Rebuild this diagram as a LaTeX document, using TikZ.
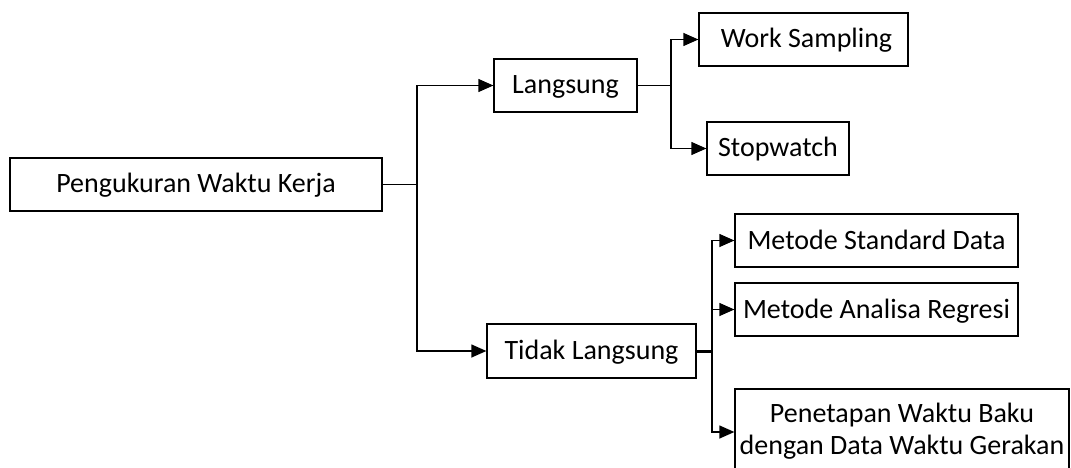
\documentclass[tikz,border=0pt]{standalone}
\usepackage{fontspec}
\setmainfont{Carlito}
\usetikzlibrary{arrows.meta}
\begin{document}
\begin{tikzpicture}[x=1pt,y=-1pt,
  box/.style={draw=black, line width=1.3pt, inner sep=0pt, align=center,
    font=\fontsize{28}{32}\selectfont, minimum height=53pt},
  oneline/.style={text height=20pt, text depth=3pt},
  link/.style={line width=1.3pt},
  arr/.style={link, -{Triangle[length=15pt,width=13pt]}}]
\useasboundingbox (0,0) rectangle (1071,468);
\clip (0,0) rectangle (1071,468);

% boxes
\node[box, oneline, minimum width=372pt] (root) at (196,184.5) {Pengukuran Waktu Kerja};
\node[box, oneline, minimum width=143pt] (lang) at (565.5,85.5) {Langsung};
\node[box, oneline, minimum width=209pt] (ws) at (803.5,39.5) {\hspace{6pt}Work Sampling};
\node[box, oneline, minimum width=142pt] (sw) at (778,148.5) {Stopwatch};
\node[box, oneline, minimum width=209pt, minimum height=54pt] (tidak) at (591.5,351) {Tidak Langsung};
\node[box, oneline, minimum width=283pt] (msd) at (876.5,240.5) {Metode Standard Data};
\node[box, oneline, minimum width=283pt] (mar) at (876.5,309.5) {Metode Analisa Regresi};
\node[box, minimum width=334pt, minimum height=84pt] (pwb) at (902,431)
  {Penetapan Waktu Baku\\dengan Data Waktu Gerakan};

% branch points
\coordinate (j1) at (417,184.5);
\coordinate (j2) at (671,85.5);
\coordinate (j3) at (712,351);

% connectors
\draw[link] (root.east) -- (j1);
\draw[arr] (j1) |- (lang.west);
\draw[arr] (j1) |- (tidak.west);

\draw[link] (lang.east) -- (j2);
\draw[arr] (j2) |- (ws.west);
\draw[arr] (j2) |- (sw.west);

\draw[line width=3pt] (tidak.east) -- (j3);
\draw[arr] (j3) |- (msd.west);
\draw[arr] (j3) |- (mar.west);
\draw[arr] (j3) |- ([yshift=-1pt]pwb.west);
\end{tikzpicture}
\end{document}
